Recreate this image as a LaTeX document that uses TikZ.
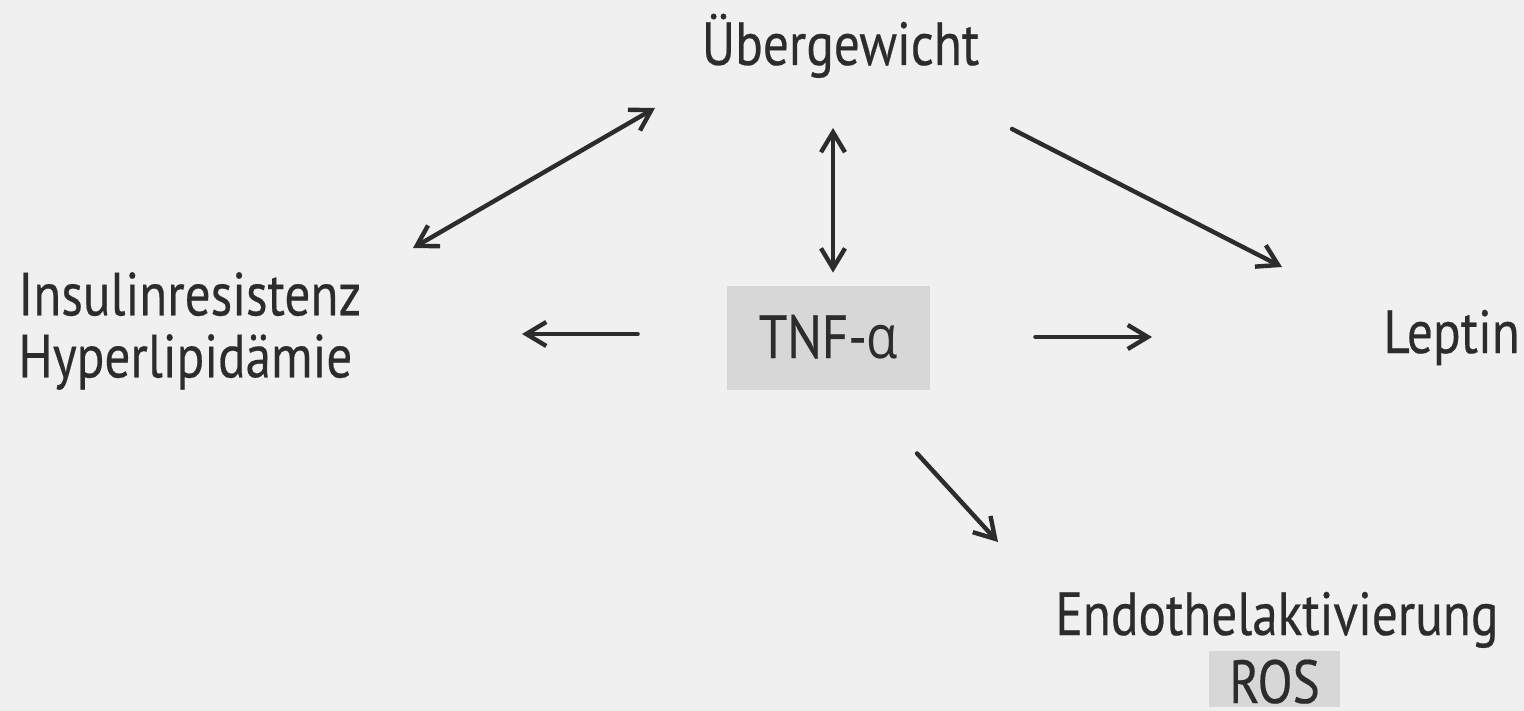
\documentclass[tikz,border=0pt]{standalone}
\usepackage{fontspec}
\setmainfont{PT Sans}[FakeStretch=0.84,FakeBold=0.35]
\newfontfamily\greekfont{Open Sans}[FakeStretch=0.84]
\usetikzlibrary{arrows.meta}
\definecolor{bg}{HTML}{F0F0F0}
\definecolor{boxgray}{HTML}{D7D7D7}
\definecolor{ink}{HTML}{2C2C2C}
\begin{document}
\begin{tikzpicture}[x=0.5pt,y=-0.5pt,
  lbl/.style={text=ink, font=\fontsize{30.5}{31}\selectfont, inner sep=0pt},
  hl/.style={lbl, fill=boxgray, align=center},
  arr/.style={draw=ink, line width=2.2pt, line cap=round, -{Straight Barb[length=10pt,width=12pt,line width=2.2pt]}},
  dbl/.style={draw=ink, line width=2.2pt, line cap=round, {Straight Barb[length=10pt,width=12pt,line width=2.2pt]}-{Straight Barb[length=10pt,width=12pt,line width=2.2pt]}}
]
\fill[bg] (0,0) rectangle (1524,711);
\useasboundingbox (0,0) rectangle (1524,711);

\node[lbl, anchor=base] (ueber) at (840.5,65) {Übergewicht};
\node[lbl, anchor=west, align=left] (ins) at (18,331) {Insulinresistenz\\Hyperlipidämie};
\node[hl, anchor=base, minimum width=101.5pt, text height=36pt, text depth=16pt] (tnf) at (828.5,358) {TNF-{\greekfont α}};
\node[lbl, anchor=base west] (leptin) at (1383,353) {Leptin};
\node[lbl, anchor=base west] (endo) at (1055,635) {Endothelaktivierung};
\node[hl, anchor=base, minimum width=65.5pt, text height=26pt, text depth=2.2pt] (ros) at (1274.5,703) {ROS};

\draw[dbl] ([shift={(395,-83)}]ins.west) -- ([shift={(-185.5,43)}]ueber.base);
\draw[dbl] ([shift={(4.5,-13)}]tnf.north) -- ([shift={(-7.5,63)}]ueber.base);
\draw[arr] ([shift={(171.5,64)}]ueber.base) -- ([shift={(-101,-86)}]leptin.base west);
\draw[arr] ([shift={(-89,-4)}]tnf.west) -- ([shift={(504,3)}]ins.west);
\draw[arr] ([shift={(105,-1)}]tnf.east) -- ([shift={(-231,-16)}]leptin.base west);
\draw[arr] ([shift={(88.5,63)}]tnf.south) -- ([shift={(-57,-93)}]endo.base west);
\end{tikzpicture}
\end{document}
